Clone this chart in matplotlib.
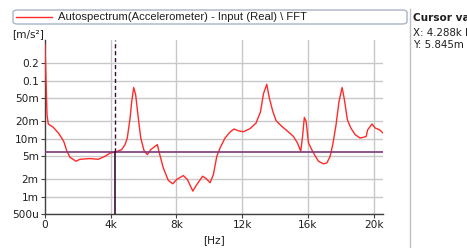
import matplotlib
matplotlib.use("Agg")
import matplotlib.pyplot as plt
import numpy as np
from matplotlib.patches import FancyBboxPatch
from matplotlib.lines import Line2D

# ---- data ----
freq_khz = [0.0, 0.061, 0.122, 0.20, 0.505, 0.81, 1.017, 1.157, 1.32, 1.52, 1.89, 2.13, 2.74,
            3.25, 3.65, 3.96, 4.288, 4.67, 4.87, 5.01, 5.18, 5.28, 5.40, 5.52, 5.68, 5.83,
            6.03, 6.23, 6.44, 6.70, 6.84, 6.96, 7.20, 7.51, 7.78, 8.02, 8.42, 8.67, 9.00,
            9.24, 9.60, 9.81, 10.05, 10.25, 10.46, 10.66, 10.96, 11.27, 11.51, 11.77, 12.08,
            12.48, 12.85, 13.12, 13.30, 13.50, 13.66, 13.87, 14.07, 14.42, 14.82, 15.12,
            15.37, 15.57, 15.67, 15.79, 15.90, 16.04, 16.24, 16.44, 16.65, 16.95, 17.16,
            17.36, 17.52, 17.72, 17.90, 18.09, 18.23, 18.41, 18.62, 18.88, 19.18, 19.55,
            19.65, 19.91, 20.10, 20.36, 20.57]
accel = [0.41, 0.103, 0.0257, 0.0178, 0.0156, 0.0125, 0.0102, 0.0087, 0.0062, 0.00475, 0.00406,
         0.00439, 0.00451, 0.00439, 0.00494, 0.0056, 0.005845, 0.00644, 0.00785, 0.0102,
         0.0226, 0.0436, 0.0757, 0.0568, 0.0226, 0.0102, 0.0062, 0.00528, 0.00644, 0.00734,
         0.00785, 0.00565, 0.00312, 0.00189, 0.00166, 0.00197, 0.0023, 0.00197, 0.00124,
         0.00161, 0.00224, 0.00204, 0.00173, 0.00239, 0.00494, 0.00689, 0.0102, 0.0130,
         0.0146, 0.0136, 0.0131, 0.0148, 0.0185, 0.029, 0.059, 0.086, 0.0498, 0.0293,
         0.0203, 0.0162, 0.0130, 0.0109, 0.0084, 0.00603, 0.0102, 0.0231, 0.0197, 0.0084,
         0.00644, 0.00508, 0.00406, 0.00366, 0.0038, 0.00494, 0.00785, 0.0173, 0.0436,
         0.0757, 0.0466, 0.0211, 0.0152, 0.0117, 0.0102, 0.0108, 0.0142, 0.0178, 0.0152,
         0.0142, 0.0125]
cursor_x = 4288.0
cursor_y = 5.845e-3
ytick_vals = [5e-4, 1e-3, 2e-3, 5e-3, 1e-2, 2e-2, 5e-2, 0.1, 0.2]
ytick_labels = ["500u", "1m", "2m", "5m", "10m", "20m", "50m", "0.1", "0.2"]
xtick_vals = [0, 4000, 8000, 12000, 16000, 20000]
xtick_labels = ["0", "4k", "8k", "12k", "16k", "20k"]
legend_label = "Autospectrum(Accelerometer) - Input (Real) \\ FFT"

freq = np.array(freq_khz) * 1000.0
W, H = 467, 248
fig = plt.figure(figsize=(W / 100, H / 100), dpi=100)
plt.rcParams['font.family'] = ['DejaVu Sans']

ax = fig.add_axes([45 / W, 1 - 214 / H, (382.7 - 45) / W, (214 - 40) / H])
ax.set_yscale('log')
ax.set_xlim(0, 20560)
ax.set_ylim(5e-4, 0.5)

for v in ytick_vals:
    ax.axhline(v, color='#c8c8c8', lw=1.0, zorder=0)
for v in xtick_vals[1:]:
    ax.axvline(v, color='#c8c8c8', lw=1.0, zorder=0)

line, = ax.plot(freq, accel, color='#ff2a2a', lw=1.0, zorder=3, label=legend_label)

ax.axhline(cursor_y, color='#7a3a7a', lw=1.2, zorder=4)
ax.plot([cursor_x, cursor_x], [cursor_y, 0.5], color='#3a0a3a', lw=1.0, ls=(0, (3, 2)), zorder=4)
ax.plot([cursor_x, cursor_x], [5e-4, cursor_y], color='#3a0a3a', lw=1.2, zorder=4)

ax.set_yticks(ytick_vals)
ax.set_yticklabels(ytick_labels)
ax.yaxis.set_minor_locator(matplotlib.ticker.NullLocator())
ax.set_xticks(xtick_vals)
ax.set_xticklabels(xtick_labels)
ax.tick_params(axis='both', labelsize=7.6, length=3, width=0.8, color='#404040', pad=1.5,
               labelcolor='#202020')
for s in ['top', 'right']:
    ax.spines[s].set_visible(False)
for s in ['left', 'bottom']:
    ax.spines[s].set_color('#404040')
    ax.spines[s].set_linewidth(1.0)

fig.text(12 / W, 1 - 34 / H, "[m/s²]", fontsize=7.6, va='center', ha='left', color='#202020')
fig.text(214 / W, 1 - 240 / H, "[Hz]", fontsize=7.6, va='center', ha='center', color='#202020')

# legend box
box = FancyBboxPatch((13 / W, 1 - 24 / H), 394 / W, 14 / H, boxstyle="round,pad=0,rounding_size=0.01",
                     transform=fig.transFigure, fc='white', ec='#a8b4c8', lw=1.0)
fig.add_artist(box)
fig.add_artist(Line2D([16 / W, 52 / W], [1 - 17 / H, 1 - 17 / H], color='#ff2a2a', lw=1.0,
                      transform=fig.transFigure))
fig.text(58 / W, 1 - 17 / H, legend_label, fontsize=8.1, va='center', ha='left', color='#202020',
         family='Liberation Sans')

# right panel
fig.add_artist(Line2D([410 / W, 410 / W], [0, 1 - 9 / H], color='#c0c0c0', lw=1.0,
                      transform=fig.transFigure))
fig.text(413 / W, 1 - 18 / H, "Cursor values", fontsize=7.6, weight='bold', va='center', ha='left',
         color='#202020')
fig.text(413 / W, 1 - 33 / H, "X: 4.288k Hz", fontsize=7.4, va='center', ha='left', color='#202020')
fig.text(413 / W, 1 - 45 / H, "Y: 5.845m", fontsize=7.4, va='center', ha='left', color='#202020')

fig.savefig("out.png", dpi=100)
